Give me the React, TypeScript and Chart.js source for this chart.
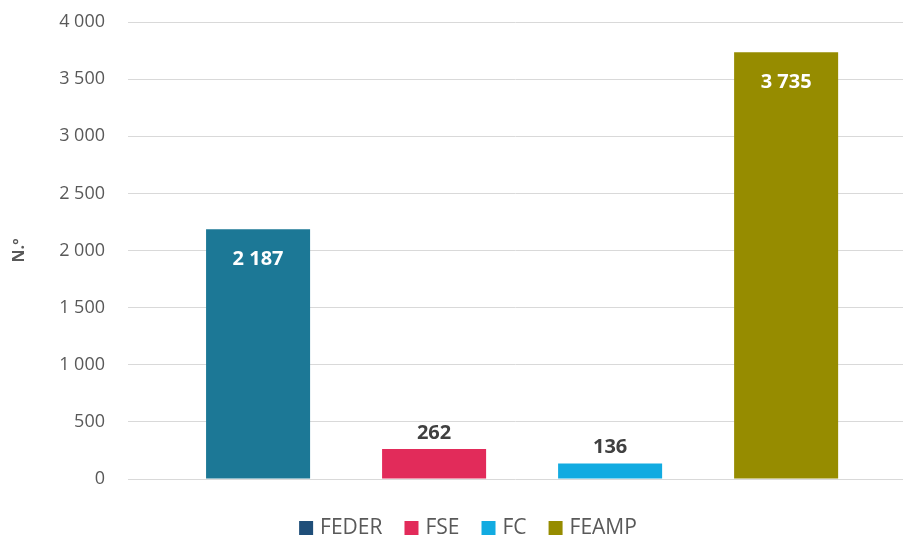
import React, { useEffect, useRef } from "react";
import { Chart, registerables } from "chart.js";

Chart.register(...registerables);

const categories = ["FEDER", "FSE", "FC", "FEAMP"];
const values = [2187, 262, 136, 3735];
const barColors = ["#1C7896", "#E22B5A", "#12ABE1", "#968C00"];
const legendColors = ["#1F4E79", "#E22B5A", "#12ABE1", "#968C00"];
const labelInside = [true, false, false, true];
const yTicks = [0, 500, 1000, 1500, 2000, 2500, 3000, 3500, 4000];

const fmt = (v: number) => {
  const s = Math.round(v).toString();
  return s.replace(/\B(?=(\d{3})+(?!\d))/g, " ");
};

const FONT = "'Open Sans', 'Noto Sans', sans-serif";

const labelPlugin = {
  id: "barLabels",
  afterDatasetsDraw(chart: any) {
    const ctx = chart.ctx;
    ctx.save();
    ctx.font = `bold 20px ${FONT}`;
    ctx.textAlign = "center";
    ctx.textBaseline = "middle";
    chart.data.datasets.forEach((ds: any, i: number) => {
      const meta = chart.getDatasetMeta(i);
      const el = meta.data[0];
      if (!el) return;
      const txt = fmt(values[i]);
      if (labelInside[i]) {
        ctx.fillStyle = "#ffffff";
        ctx.fillText(txt, el.x, el.y + 30);
      } else {
        ctx.fillStyle = "#404040";
        ctx.fillText(txt, el.x, el.y - 16);
      }
    });
    ctx.restore();
  },
};

const legendPlugin = {
  id: "customLegend",
  afterDraw(chart: any) {
    const ctx = chart.ctx;
    ctx.save();
    ctx.font = `21px ${FONT}`;
    ctx.textBaseline = "middle";
    ctx.textAlign = "left";
    const box = 14;
    const gapText = 7;
    const gapItem = 22;
    const widths = categories.map((c) => ctx.measureText(c).width);
    const total =
      widths.reduce((a, w) => a + box + gapText + w, 0) + gapItem * (categories.length - 1);
    const cy = 528;
    let x = 468 - total / 2;
    categories.forEach((c, i) => {
      ctx.fillStyle = legendColors[i];
      ctx.fillRect(x, cy - box / 2, box, box);
      x += box + gapText;
      ctx.fillStyle = "#595959";
      ctx.fillText(c, x, cy);
      x += widths[i] + gapItem;
    });
    ctx.restore();
  },
};

export default function App() {
  const ref = useRef<HTMLCanvasElement>(null);
  useEffect(() => {
    document.body.style.margin = "0";
    const chart = new Chart(ref.current!, {
      type: "bar",
      data: {
        datasets: categories.map((c, i) => ({
          label: c,
          data: [{ x: i + 1, y: values[i] }],
          backgroundColor: barColors[i],
          grouped: false,
          barPercentage: 0.591,
          categoryPercentage: 1,
        })) as any,
      },
      options: {
        animation: false,
        responsive: false,
        maintainAspectRatio: false,
        layout: { padding: { top: 22, left: 0, right: 0, bottom: 60 } },
        plugins: {
          tooltip: { enabled: false },
          legend: { display: false },
        },
        scales: {
          x: {
            type: "linear",
            min: 0.261,
            max: 4.664,
            offset: false,
            display: false,
            afterBuildTicks: (s: any) => {
              s.ticks = categories.map((_, i) => ({ value: i + 1 }));
            },
          },
          y: {
            min: 0,
            max: 4000,
            afterBuildTicks: (s: any) => {
              s.ticks = yTicks.map((v) => ({ value: v }));
            },
            ticks: {
              padding: 23,
              color: "#595959",
              font: { family: FONT, size: 18 },
              callback: (v: any) => fmt(Number(v)),
            },
            grid: { color: "#D9D9D9", drawTicks: false, lineWidth: 1 },
            border: { display: false },
            title: {
              display: true,
              text: "N.º",
              color: "#595959",
              font: { family: FONT, size: 16, weight: "bold" },
              padding: { top: 10, bottom: 0 },
            },
            afterFit: (s: any) => {
              s.width = 128;
              s.paddingTop = 0;
              s.paddingBottom = 0;
            },
          },
        },
      },
      plugins: [labelPlugin, legendPlugin],
    });
    return () => chart.destroy();
  }, []);
  return (
    <div style={{ width: 903, height: 539 }}>
      <canvas ref={ref} width={903} height={539} style={{ width: 903, height: 539 }} />
    </div>
  );
}
